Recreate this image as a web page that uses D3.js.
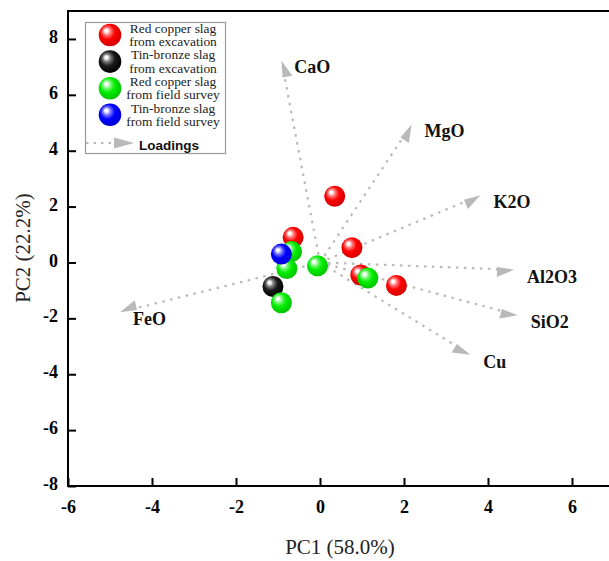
<!DOCTYPE html>
<html>
<head>
<meta charset="utf-8">
<script src="https://cdn.jsdelivr.net/npm/d3@7/dist/d3.min.js"></script>
<style>
  html, body { margin: 0; padding: 0; background: #fff; }
  svg { display: block; }
  .serif { font-family: "Liberation Serif", "Times New Roman", Times, serif; }
  .sans { font-family: "Liberation Sans", Arial, Helvetica, sans-serif; }
</style>
</head>
<body>
<svg id="chart" width="609" height="561"></svg>
<script>
// ---- Data ----
const groups = ["Red copper slag\nfrom excavation", "Tin-bronze slag\nfrom excavation", "Red copper slag\nfrom field survey", "Tin-bronze slag\nfrom field survey"];
const groupColors = ["#ff0000", "#000000", "#00ee00", "#0000ff"];
const drawOrder = [0, 1, 2, 3];

const redExcavation = [[0.35, 2.37], [-0.64, 0.90], [0.76, 0.53], [0.97, -0.45], [1.82, -0.82]];
const tinExcavation = [[-1.12, -0.86]];
const redSurvey = [[-0.68, 0.39], [-0.79, -0.22], [-0.06, -0.12], [1.14, -0.56], [-0.92, -1.44]];
const tinSurvey = [[-0.92, 0.30]];
const seriesPoints = [redExcavation, tinExcavation, redSurvey, tinSurvey];

const loadingNames = ["CaO", "MgO", "K2O", "Al2O3", "SiO2", "Cu", "FeO"];
const loadingX = [-0.92, 2.18, 3.82, 4.62, 4.71, 3.58, -4.76];
const loadingY = [7.23, 4.94, 2.41, -0.26, -1.89, -3.30, -1.78];

const xTicks = [-6, -4, -2, 0, 2, 4, 6];
const yTicks = [-8, -6, -4, -2, 0, 2, 4, 6, 8];
const xTitle = "PC1 (58.0%)";
const yTitle = "PC2 (22.2%)";
const loadingsLabel = "Loadings";

// ---- Layout ----
const svg = d3.select("#chart");
const pLeft = 68, pRight = 614, pTop = 11, pBottom = 486;
const x = d3.scaleLinear().domain([-6, 7]).range([pLeft, pRight]);
const y = d3.scaleLinear().domain([-8, 9]).range([pBottom, pTop]);

// gradients
const defs = svg.append("defs");
function lighten(c, k) { return d3.interpolateRgb(c, "#ffffff")(k); }
groupColors.forEach((c, i) => {
  const g = defs.append("radialGradient").attr("id", "ball" + i)
    .attr("cx", "45%").attr("cy", "42%").attr("r", "60%")
    .attr("fx", "32%").attr("fy", "30%");
  const dark = i === 1 ? "#000000" : d3.color(c).darker(0.6).formatHex();
  const mid = i === 1 ? "#1a1a1a" : c;
  g.append("stop").attr("offset", "0%").attr("stop-color", "#ffffff");
  g.append("stop").attr("offset", "10%").attr("stop-color", "#ffffff");
  g.append("stop").attr("offset", "30%").attr("stop-color", i === 1 ? "#777777" : lighten(c, 0.45));
  g.append("stop").attr("offset", "55%").attr("stop-color", mid);
  g.append("stop").attr("offset", "100%").attr("stop-color", dark);
});

// ---- Axes ----
const fmt = d => String(d);
const xAxis = d3.axisBottom(x).tickValues(xTicks).tickSize(-8).tickPadding(14).tickFormat(fmt);
const yAxis = d3.axisLeft(y).tickValues(yTicks).tickSize(-8).tickPadding(10).tickFormat(fmt);

const gx = svg.append("g").attr("transform", `translate(0,${pBottom})`).call(xAxis);
const gy = svg.append("g").attr("transform", `translate(${pLeft},0)`).call(yAxis);
[gx, gy].forEach(g => {
  g.attr("font-family", null).attr("font-size", null);
  g.select(".domain").remove();
  g.selectAll(".tick line").attr("stroke", "#000").attr("stroke-width", 2);
  g.selectAll(".tick text").attr("fill", "#000").attr("class", "serif")
    .style("font-size", "18px").style("font-weight", "bold");
});
gx.selectAll(".tick text").attr("dy", "0.71em");
gy.selectAll(".tick text").attr("dy", "0.2em");

// frame
svg.append("rect").attr("x", pLeft).attr("y", pTop)
  .attr("width", pRight - pLeft).attr("height", pBottom - pTop)
  .attr("fill", "none").attr("stroke", "#000").attr("stroke-width", 2);

// titles
svg.append("text").attr("class", "serif").attr("x", 340).attr("y", 554).attr("text-anchor", "middle")
  .style("font-size", "21px").attr("fill", "#222").text(xTitle);
svg.append("text").attr("class", "serif").attr("transform", `translate(30,248) rotate(-90)`).attr("text-anchor", "middle")
  .style("font-size", "21px").attr("fill", "#222").text(yTitle);

// ---- Loadings ----
const arrowColor = "#b9b9b9";
const headLen = 17;
const gl = svg.append("g");
loadingNames.forEach((name, i) => {
  const x0 = x(0), y0 = y(0);
  const x1 = x(loadingX[i]), y1 = y(loadingY[i]);
  const dx = x1 - x0, dy = y1 - y0, len = Math.hypot(dx, dy);
  const ux = dx / len, uy = dy / len;
  const bx = x1 - ux * headLen, by = y1 - uy * headLen;
  gl.append("line").attr("x1", x0).attr("y1", y0).attr("x2", bx).attr("y2", by)
    .attr("stroke", arrowColor).attr("stroke-width", 2.2).attr("stroke-dasharray", "2.5,5.5");
  const px = -uy, py = ux;
  const barb = 8, flat = 2;
  gl.append("path")
    .attr("d", `M${x1},${y1}L${bx + px * barb},${by + py * barb}L${bx - px * flat},${by - py * flat}Z`)
    .attr("fill", arrowColor);
  gl.append("text").attr("class", "serif").attr("x", x1 + 13).attr("y", y1 + 13)
    .style("font-size", "18px").style("font-weight", "bold")
    .attr("fill", "#111").text(name);
});

// ---- Points ----
const r = 10.5;
drawOrder.forEach(gi => {
  svg.append("g").selectAll("circle").data(seriesPoints[gi]).join("circle")
    .attr("cx", d => x(d[0])).attr("cy", d => y(d[1])).attr("r", r)
    .attr("fill", `url(#ball${gi})`);
});

// ---- Legend ----
const lg = svg.append("g");
lg.append("rect").attr("x", 85.5).attr("y", 22.5).attr("width", 140).attr("height", 131)
  .attr("fill", "#fff").attr("stroke", "#9a9a9a").attr("stroke-width", 1.2);
groups.forEach((g, i) => {
  const cy = 35 + i * 26.6;
  lg.append("circle").attr("cx", 110).attr("cy", cy).attr("r", 11.3).attr("fill", `url(#ball${i})`);
  const lines = g.split("\n");
  lines.forEach((s, j) => {
    lg.append("text").attr("class", "serif").attr("text-anchor", "middle")
      .attr("transform", `translate(173,${cy - 2.3 + j * 13.3}) scale(1.12,1)`)
      .style("font-size", "12px").attr("fill", "#222").text(s);
  });
});
lg.append("line").attr("x1", 86).attr("y1", 143).attr("x2", 116).attr("y2", 143)
  .attr("stroke", arrowColor).attr("stroke-width", 2).attr("stroke-dasharray", "2.5,5");
lg.append("path").attr("d", "M114,137.5L134,143L114,148.5Z").attr("fill", arrowColor);
lg.append("text").attr("class", "sans").attr("x", 139).attr("y", 149.5)
  .style("font-size", "13.5px").style("font-weight", "bold")
  .attr("fill", "#111").text(loadingsLabel);
</script>
</body>
</html>
